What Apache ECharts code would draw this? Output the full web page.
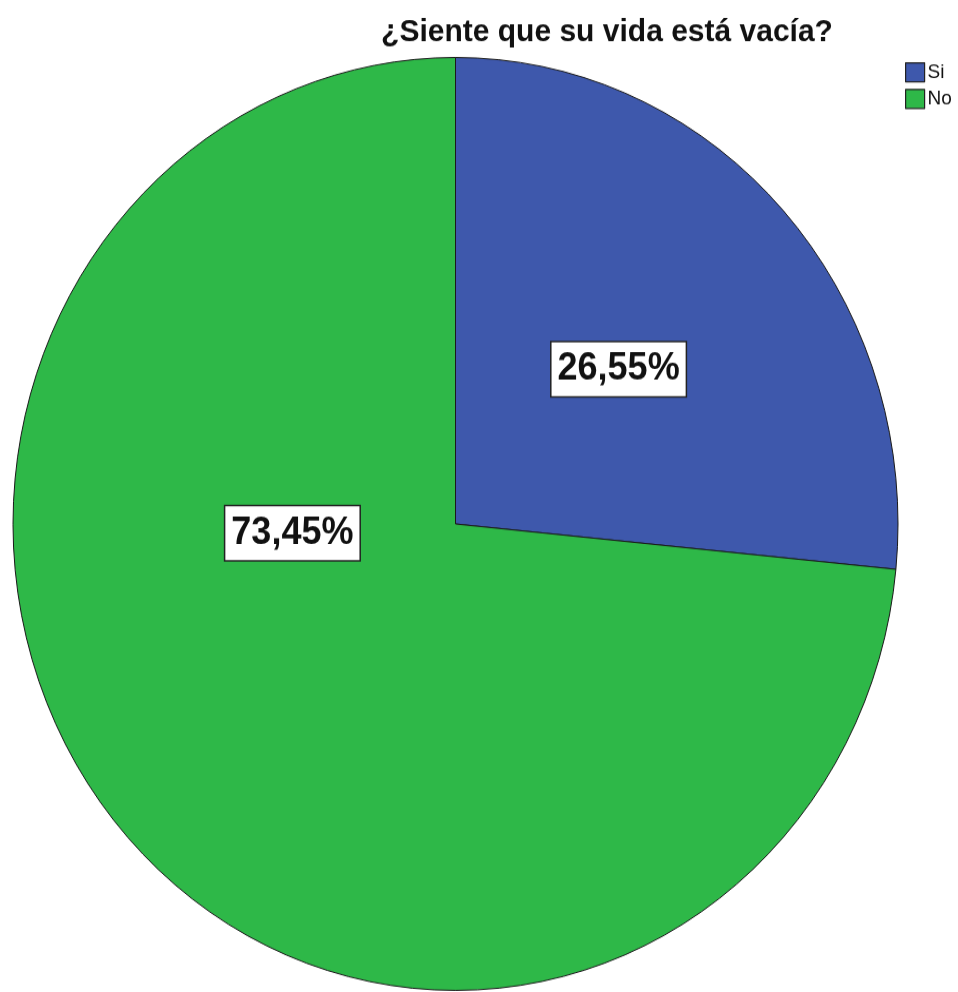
<!DOCTYPE html>
<html>
<head>
<meta charset="utf-8">
<script src="https://cdn.jsdelivr.net/npm/echarts@6/dist/echarts.min.js"></script>
<style>
html,body{margin:0;padding:0;background:#fff;overflow:hidden;}
#wrap{width:958px;height:992px;overflow:hidden;}
#chart{width:958px;height:941px;transform:scaleY(1.0542);transform-origin:0 0;}
</style>
</head>
<body>
<div id="wrap"><div id="chart"></div></div>
<script>
const titleText = '¿Siente que su vida está vacía?';
const categories = ['Si', 'No'];
const percentValues = [26.55, 73.45];
const sliceColors = ['#3E58AC', '#2EB848'];

const chart = echarts.init(document.getElementById('chart'), null, {renderer: 'canvas'});
const FONT = 'Liberation Sans, Arial, sans-serif';
const cx = 455.5, cy = 497, R = 442.5;

const option = {
  animation: false,
  backgroundColor: '#ffffff',
  title: {
    text: titleText,
    left: 602,
    top: 11,
    textAlign: 'center',
    textStyle: {fontFamily: FONT, fontSize: 30, fontWeight: 'bold', color: '#111'}
  },
  legend: {
    orient: 'vertical',
    left: 905,
    top: 59,
    padding: 0,
    itemGap: 6,
    itemWidth: 19,
    itemHeight: 18,
    icon: 'rect',
    data: categories,
    textStyle: {fontFamily: FONT, fontSize: 19, color: '#111', padding: [0, 0, 0, -2]},
    itemStyle: {borderColor: '#222', borderWidth: 1.2}
  },
  series: [{
    type: 'pie',
    center: [cx, cy],
    radius: [0, R],
    startAngle: 90,
    clockwise: true,
    silent: true,
    data: categories.map((c, i) => ({name: c, value: percentValues[i], itemStyle: {color: sliceColors[i]}})),
    itemStyle: {borderColor: '#1a1a1a', borderWidth: 1},
    label: {
      show: true,
      position: 'inside',
      formatter: p => percentValues[p.dataIndex].toFixed(2).replace('.', ',') + '%',
      fontFamily: FONT,
      fontSize: 36,
      fontWeight: 'bold',
      color: '#111',
      backgroundColor: '#ffffff',
      borderColor: '#222',
      borderWidth: 1.5,
      padding: [7, 6, 6, 6],
      lineHeight: 38
    },
    labelLine: {show: false},
    labelLayout: function (params) {
      if (params.dataIndex === 1) {
        return {dx: 3, dy: -142};
      }
      return {dx: -3, dy: 4};
    }
  }]
};
chart.setOption(option);
</script>
</body>
</html>
